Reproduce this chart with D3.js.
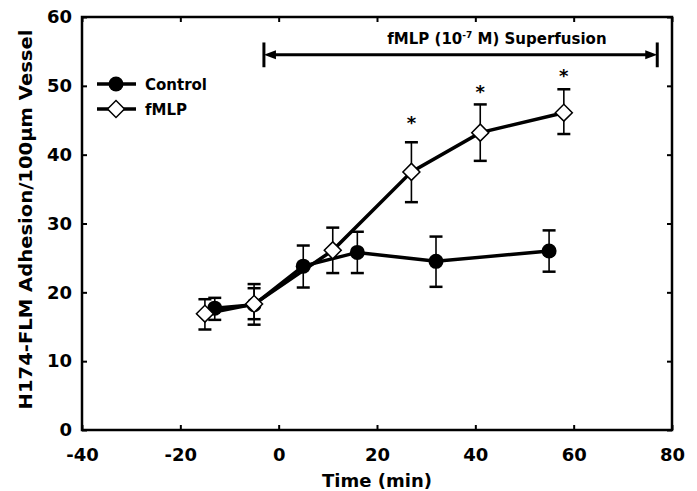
<!DOCTYPE html>
<html>
<head>
<meta charset="utf-8">
<script src="https://cdn.jsdelivr.net/npm/d3@7"></script>
<style>
body { margin: 0; background: #fff; }
text { font-family: "DejaVu Sans", sans-serif; font-weight: bold; fill: #000; }
</style>
</head>
<body>
<script>
// Control series (time in min, adhesion mean and error bar limits)
const controlTime = [-13, -5, 5, 16, 32, 55];
const controlMean = [17.7, 18.2, 23.8, 25.8, 24.5, 26.0];
const controlLow  = [16.0, 16.1, 20.7, 22.8, 20.8, 23.0];
const controlHigh = [19.2, 20.6, 26.8, 28.8, 28.1, 29.0];

// fMLP series
const fmlpTime = [-15, -5, 11, 27, 41, 58];
const fmlpMean = [16.9, 18.3, 26.1, 37.5, 43.2, 46.1];
const fmlpLow  = [14.6, 15.3, 22.8, 33.1, 39.1, 43.0];
const fmlpHigh = [19.0, 21.2, 29.4, 41.8, 47.3, 49.5];

// significance stars
const starTime  = [27, 41, 58];
const starValue = [45.2, 49.7, 52.0];

const xTicks = [-40, -20, 0, 20, 40, 60, 80];
const yTicks = [0, 10, 20, 30, 40, 50, 60];

// superfusion period
const superStart = -3, superEnd = 77, superLevel = 54.5, superBarHi = 56.3, superBarLo = 52.7;
const superLabelTime = 44.4, superLabelLevel = 56.1;

let margin = {top: 17, right: 25, bottom: 61, left: 82};
let width = 697 - margin.left - margin.right;
let height = 491 - margin.top - margin.bottom;

let xScale = d3.scaleLinear().domain([-40, 80]).range([0, width]);
let yScale = d3.scaleLinear().domain([0, 60]).range([height, 0]);

let svg = d3.select('body')
    .append('svg')
    .attr('width', 697)
    .attr('height', 491)
    .append('g')
    .attr('transform', 'translate(' + margin.left + ',' + margin.top + ')');

// plain hyphen for negatives, like the original
let plain = d => String(d);

// axes with inward ticks
let xAxis = d3.axisBottom(xScale).tickValues(xTicks).tickSize(-5).tickPadding(18.5).tickFormat(plain);
let yAxis = d3.axisLeft(yScale).tickValues(yTicks).tickSize(-5).tickPadding(10).tickFormat(plain);

let gx = svg.append('g').attr('transform', 'translate(0,' + height + ')').call(xAxis);
let gy = svg.append('g').call(yAxis);
let gxTop = svg.append('g').call(d3.axisTop(xScale).tickValues(xTicks).tickSize(-5).tickFormat(''));
let gyRight = svg.append('g').attr('transform', 'translate(' + width + ',0)')
    .call(d3.axisRight(yScale).tickValues(yTicks).tickSize(-5).tickFormat(''));

[gx, gy, gxTop, gyRight].forEach(g => {
    g.select('.domain').remove();
    g.selectAll('.tick line').attr('stroke', '#000').attr('stroke-width', 2);
});
[gx, gy].forEach(g => {
    g.selectAll('.tick text')
        .style('font-size', '18px')
        .style('font-family', 'DejaVu Sans')
        .style('font-weight', 'bold')
        .attr('fill', '#000');
});

// frame
svg.append('rect')
    .attr('x', 0).attr('y', 0)
    .attr('width', width).attr('height', height)
    .attr('fill', 'none')
    .attr('stroke', '#000')
    .attr('stroke-width', 2.5);

// axis titles
svg.append('text')
    .attr('x', width / 2)
    .attr('y', height + 57)
    .attr('text-anchor', 'middle')
    .style('font-size', '18px')
    .text('Time (min)');

svg.append('text')
    .attr('transform', 'translate(' + (32 - margin.left) + ',' + (height / 2 - 4) + ') rotate(-90)')
    .attr('text-anchor', 'middle')
    .attr('textLength', 380)
    .attr('lengthAdjust', 'spacingAndGlyphs')
    .style('font-size', '17px')
    .text('H174-FLM Adhesion/100μm Vessel');

// superfusion arrow
let ay = yScale(superLevel);
let ax0 = xScale(superStart), ax1 = xScale(superEnd);
svg.append('line')
    .attr('x1', ax0 + 6).attr('x2', ax1 - 6)
    .attr('y1', ay).attr('y2', ay)
    .attr('stroke', '#000').attr('stroke-width', 3);
[[ax0, 1], [ax1, -1]].forEach(([x, dir]) => {
    svg.append('path')
        .attr('d', 'M' + x + ',' + ay + 'L' + (x + dir * 12) + ',' + (ay - 4.5) + 'L' + (x + dir * 12) + ',' + (ay + 4.5) + 'Z')
        .attr('fill', '#000');
    svg.append('line')
        .attr('x1', x).attr('x2', x)
        .attr('y1', yScale(superBarHi)).attr('y2', yScale(superBarLo))
        .attr('stroke', '#000').attr('stroke-width', 3);
});
let lab = svg.append('text')
    .attr('x', xScale(superLabelTime))
    .attr('y', yScale(superLabelLevel))
    .attr('text-anchor', 'middle')
    .style('font-size', '15px');
lab.append('tspan').text('fMLP (10');
lab.append('tspan').attr('dy', -6).style('font-size', '9px').text('-7');
lab.append('tspan').attr('dy', 6).text(' M) Superfusion');

// series drawing
function drawSeries(time, mean, low, high, marker) {
    let pts = time.map((t, i) => ({t: t, m: mean[i], lo: low[i], hi: high[i]}));
    let g = svg.append('g');

    // error bars
    pts.forEach(p => {
        let x = xScale(p.t);
        g.append('line').attr('x1', x).attr('x2', x)
            .attr('y1', yScale(p.lo)).attr('y2', yScale(p.hi))
            .attr('stroke', '#000').attr('stroke-width', 1.6);
        [p.lo, p.hi].forEach(v => {
            g.append('line').attr('x1', x - 6.5).attr('x2', x + 6.5)
                .attr('y1', yScale(v)).attr('y2', yScale(v))
                .attr('stroke', '#000').attr('stroke-width', 2.5);
        });
    });

    g.append('path')
        .datum(pts)
        .attr('fill', 'none')
        .attr('stroke', '#000')
        .attr('stroke-width', 3.5)
        .attr('d', d3.line().x(d => xScale(d.t)).y(d => yScale(d.m)));

    pts.forEach(p => drawMarker(g, xScale(p.t), yScale(p.m), marker));
}

function drawMarker(g, x, y, marker) {
    if (marker === 'circle') {
        g.append('circle').attr('cx', x).attr('cy', y).attr('r', 7.5).attr('fill', '#000');
    } else {
        g.append('path')
            .attr('d', d3.symbol().type(d3.symbolSquare).size(144)())
            .attr('transform', 'translate(' + x + ',' + y + ') rotate(45)')
            .attr('fill', '#fff')
            .attr('stroke', '#000')
            .attr('stroke-width', 1.5);
    }
}

drawSeries(controlTime, controlMean, controlLow, controlHigh, 'circle');
drawSeries(fmlpTime, fmlpMean, fmlpLow, fmlpHigh, 'diamond');

// stars
starTime.forEach((t, i) => {
    svg.append('text')
        .attr('x', xScale(t))
        .attr('y', yScale(starValue[i]) + 10)
        .attr('text-anchor', 'middle')
        .style('font-size', '18px')
        .text('*');
});

// legend
let legend = svg.append('g').attr('transform', 'translate(' + (-margin.left) + ',' + (-margin.top) + ')');
[['Control', 'circle', 84], ['fMLP', 'diamond', 109]].forEach(([name, marker, ly]) => {
    legend.append('line').attr('x1', 97).attr('x2', 136).attr('y1', ly).attr('y2', ly)
        .attr('stroke', '#000').attr('stroke-width', 3.5);
    drawMarker(legend, 116, ly, marker);
    legend.append('text').attr('x', 145).attr('y', ly + 5.5).style('font-size', '15px').text(name);
});
</script>
</body>
</html>
